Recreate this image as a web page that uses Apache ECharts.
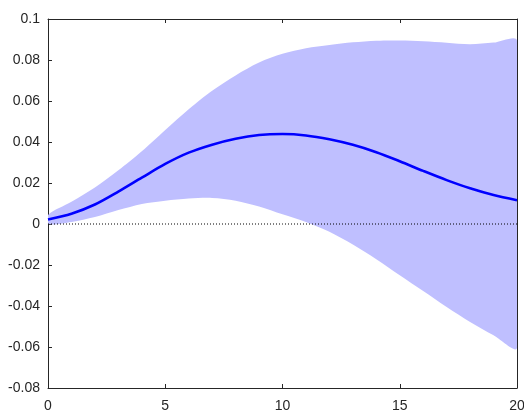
<!DOCTYPE html>
<html>
<head>
<meta charset="utf-8">
<script src="https://cdn.jsdelivr.net/npm/echarts@6/dist/echarts.min.js"></script>
<style>
html,body{margin:0;padding:0;background:#fff;}
#chart{width:524px;height:410px;}
</style>
</head>
<body>
<div id="chart"></div>
<script>
const horizons = [0,1,2,3,4,5,6,7,8,9,10,11,12,13,14,15,16,17,18,19,20];
const meanResponse = [0.0022,0.0050,0.0095,0.0158,0.0226,0.0293,0.0348,0.0387,0.0416,0.0434,0.0439,0.0432,0.0413,0.0386,0.0350,0.0306,0.0259,0.0214,0.0174,0.0141,0.0116];
const upperBand = [0.0044,0.0108,0.0178,0.0262,0.0355,0.0459,0.0560,0.0650,0.0725,0.0788,0.0830,0.0857,0.0873,0.0886,0.0894,0.0895,0.0891,0.0884,0.0877,0.0885,0.0894];
const lowerBand = [0.0000,0.0010,0.0034,0.0068,0.0098,0.0114,0.0124,0.0127,0.0114,0.0085,0.0047,0.0010,-0.0038,-0.0100,-0.0172,-0.0250,-0.0327,-0.0405,-0.0478,-0.0543,-0.0603];
const zeroLine = horizons.map(() => 0);
const yTicks = [-0.08,-0.06,-0.04,-0.02,0,0.02,0.04,0.06,0.08,0.1];
const xTicks = [0,5,10,15,20];

const pair = arr => horizons.map((h, i) => [h, arr[i]]);

const axisColor = '#262626';
const font = { fontFamily: 'Liberation Sans, Arial, sans-serif', fontSize: 14, color: '#262626' };

function axisCommon(extra) {
  return Object.assign({
    axisLine: { show: true, onZero: false, lineStyle: { color: axisColor } },
    axisTick: { show: true, inside: true, length: 4, lineStyle: { color: axisColor } },
    splitLine: { show: false }
  }, extra);
}

const chart = echarts.init(document.getElementById('chart'));
chart.setOption({
  animation: false,
  backgroundColor: '#fff',
  grid: { left: 48, right: 7, top: 19, bottom: 22, show: false, containLabel: false, outerBoundsMode: 'none' },
  xAxis: [
    axisCommon({ type: 'value', min: xTicks[0], max: xTicks[xTicks.length-1], interval: 5, position: 'bottom',
      axisLabel: Object.assign({ margin: 11 }, font) }),
    axisCommon({ type: 'value', min: xTicks[0], max: xTicks[xTicks.length-1], interval: 5, position: 'top',
      axisLabel: { show: false } })
  ],
  yAxis: [
    axisCommon({ type: 'value', min: yTicks[0], max: yTicks[yTicks.length-1], interval: 0.02, position: 'left',
      axisLabel: Object.assign({ margin: 8, formatter: v => String(parseFloat(v.toFixed(4))) }, font) }),
    axisCommon({ type: 'value', min: yTicks[0], max: yTicks[yTicks.length-1], interval: 0.02, position: 'right',
      axisLabel: { show: false } })
  ],
  series: [
    { type: 'custom', silent: true, z: 1, clip: true, xAxisIndex: 0, yAxisIndex: 0,
      data: [[0, 0]],
      renderItem: function (params, api) {
        const pts = [];
        for (let i = 0; i < horizons.length; i++) pts.push(api.coord([horizons[i], upperBand[i]]));
        for (let i = horizons.length - 1; i >= 0; i--) pts.push(api.coord([horizons[i], lowerBand[i]]));
        const cs = params.coordSys;
        return { type: 'polygon',
                 shape: { points: pts, smooth: 0.3, smoothConstraint: [[cs.x, cs.y], [cs.x + cs.width, cs.y + cs.height]] },
                 style: { fill: '#bfbfff', stroke: null } };
      } },
    { type: 'line', data: pair(zeroLine), symbol: 'none', silent: true, z: 2,
      lineStyle: { color: '#000', width: 1, type: [1, 2] } },
    { type: 'line', data: pair(meanResponse), smooth: 0.3, symbol: 'none', z: 3,
      lineStyle: { color: '#0000ff', width: 2.6 } }
  ]
});
</script>
</body>
</html>
